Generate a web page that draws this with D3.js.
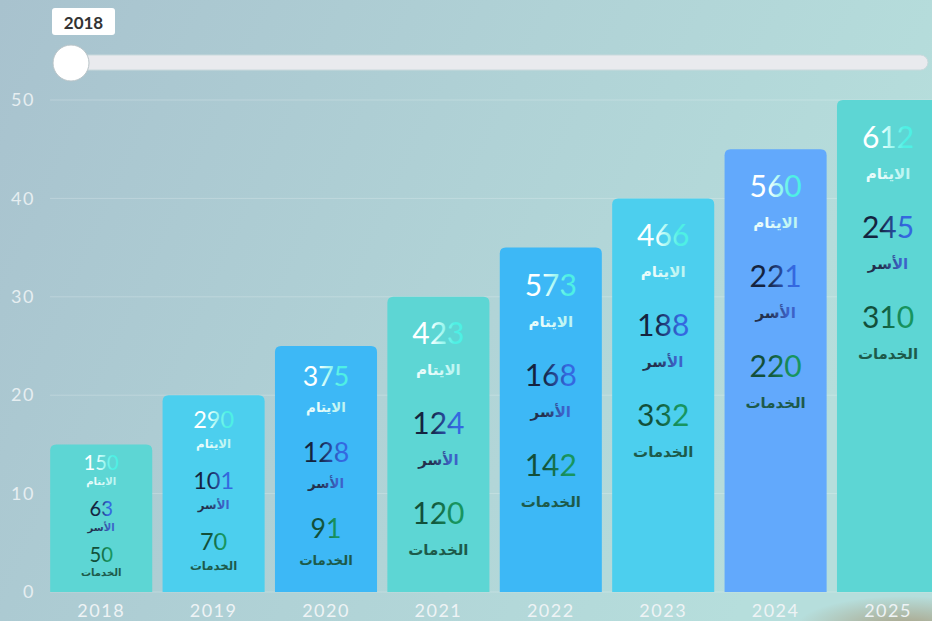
<!DOCTYPE html>
<html>
<head>
<meta charset="utf-8">
<script src="https://cdn.jsdelivr.net/npm/d3@7"></script>
<style>
  html, body { margin: 0; padding: 0; overflow: hidden; }
  svg { display: block; }
</style>
</head>
<body>
<script>
// chart data
var years = ["2018", "2019", "2020", "2021", "2022", "2023", "2024", "2025"];
var barValues = [15, 20, 25, 30, 35, 40, 45, 50];
var orphans = [150, 290, 375, 423, 573, 466, 560, 612];
var families = [63, 101, 128, 124, 168, 188, 221, 245];
var services = [50, 70, 91, 120, 142, 332, 220, 310];
var groupLabels = ["الايتام", "الأسر", "الخدمات"];
var yTicks = [0, 10, 20, 30, 40, 50];
var barColors = ["#5dd6d4", "#4ccfee", "#3db8f6", "#5dd6d4", "#3db8f6", "#4ccfee", "#62a9fc", "#5dd6d4"];
var sliderYear = "2018";

var W = 932, H = 621;
var margin = {top: 100, bottom: 29, left: 45};

var svg = d3.select("body").append("svg")
    .attr("width", W)
    .attr("height", H);

var defs = svg.append("defs");

// background
var bg = defs.append("linearGradient").attr("id", "bg")
    .attr("x1", 0).attr("y1", 0).attr("x2", 1).attr("y2", 0.3);
bg.append("stop").attr("offset", "0%").attr("stop-color", "#a8c2ce");
bg.append("stop").attr("offset", "55%").attr("stop-color", "#b0d2d6");
bg.append("stop").attr("offset", "100%").attr("stop-color", "#b6dedc");

var patch = defs.append("radialGradient").attr("id", "patch")
    .attr("cx", 0.5).attr("cy", 0.5).attr("r", 0.5);
patch.append("stop").attr("offset", "0%").attr("stop-color", "#a89a7a").attr("stop-opacity", 0.9);
patch.append("stop").attr("offset", "100%").attr("stop-color", "#a89a7a").attr("stop-opacity", 0);

svg.append("rect").attr("width", W).attr("height", H).attr("fill", "url(#bg)");
svg.append("ellipse").attr("cx", 905).attr("cy", 628).attr("rx", 110).attr("ry", 32).attr("fill", "url(#patch)");

// text gradients: [id, left colour, right colour]
var grads = [
    ["g0", "#ffffff", "#4ef0e4"],
    ["g1", "#14233f", "#3468e0"],
    ["g2", "#124f3a", "#179560"],
    ["l0", "#e8fbfa", "#bff5f2"],
    ["l1", "#23304d", "#3c62c8"],
    ["l2", "#1d5a4a", "#1d5a4a"]
];
grads.forEach(function(g) {
    var lg = defs.append("linearGradient").attr("id", g[0])
        .attr("x1", 0).attr("y1", 0).attr("x2", 1).attr("y2", 0);
    lg.append("stop").attr("offset", "35%").attr("stop-color", g[1]);
    lg.append("stop").attr("offset", "80%").attr("stop-color", g[2]);
});

var x = d3.scaleBand()
    .domain(years)
    .range([margin.left, margin.left + 8 * 112.4])
    .paddingInner(0.092)
    .paddingOuter(0.046);

var y = d3.scaleLinear()
    .domain([0, 50])
    .range([H - margin.bottom, margin.top]);

// grid
svg.append("g")
    .selectAll("line")
    .data(yTicks)
    .enter().append("line")
    .attr("x1", 50).attr("x2", W)
    .attr("y1", function(d) { return y(d); })
    .attr("y2", function(d) { return y(d); })
    .attr("stroke", "#ffffff")
    .attr("stroke-opacity", 0.22)
    .attr("stroke-width", 1);

// y axis
var yAxis = d3.axisLeft(y).tickValues(yTicks).tickSize(0).tickPadding(0);
var yg = svg.append("g")
    .attr("transform", "translate(35,0)")
    .call(yAxis);
yg.select(".domain").remove();
yg.selectAll("text")
    .attr("fill", "#e6eef1")
    .style("font-family", "Lato, sans-serif")
    .style("font-size", "18px")
    .style("letter-spacing", "1.5px");

// x axis
var xAxis = d3.axisBottom(x).tickSize(0).tickPadding(0);
var xg = svg.append("g")
    .attr("transform", "translate(0," + (H - margin.bottom + 9) + ")")
    .call(xAxis);
xg.select(".domain").remove();
xg.selectAll("text")
    .attr("fill", "#eef3f5")
    .attr("dy", "0.9em")
    .style("font-family", "Lato, sans-serif")
    .style("font-size", "18px")
    .style("letter-spacing", "1.5px");

// bars with rounded top corners
function barPath(x0, y0, w, h, r) {
    return "M" + x0 + "," + (y0 + h) +
        "V" + (y0 + r) +
        "Q" + x0 + "," + y0 + " " + (x0 + r) + "," + y0 +
        "H" + (x0 + w - r) +
        "Q" + (x0 + w) + "," + y0 + " " + (x0 + w) + "," + (y0 + r) +
        "V" + (y0 + h) + "Z";
}

var rows = years.map(function(yr, i) {
    return {year: yr, v: barValues[i], nums: [orphans[i], families[i], services[i]], color: barColors[i]};
});

var bars = svg.append("g").selectAll("g.bar")
    .data(rows)
    .enter().append("g")
    .attr("class", "bar");

bars.append("path")
    .attr("d", function(d) {
        return barPath(x(d.year), y(d.v), x.bandwidth(), y(0) - y(d.v), 6);
    })
    .attr("fill", function(d) { return d.color; });

// text sizing follows bar height
var fullH = y(0) - y(30);
bars.each(function(d) {
    var h = y(0) - y(d.v);
    var k = Math.min(1, 0.35 + 0.65 * h / fullH);
    var top = y(d.v) + Math.min(36, 0.12 * h);
    var step = Math.min(90, 0.31 * h);
    var gap = Math.min(38, 0.13 * h);
    var cx = x(d.year) + x.bandwidth() / 2;
    var g = d3.select(this);
    d.nums.forEach(function(n, j) {
        var cy = top + j * step;
        g.append("text")
            .attr("x", cx).attr("y", cy)
            .attr("text-anchor", "middle")
            .attr("dominant-baseline", "central")
            .attr("fill", "url(#g" + j + ")")
            .style("font-family", "Lato, sans-serif")
            .style("font-size", (30 * k) + "px")
            .text(n);
        g.append("text")
            .attr("x", cx).attr("y", cy + gap)
            .attr("text-anchor", "middle")
            .attr("dominant-baseline", "central")
            .attr("fill", "url(#l" + j + ")")
            .style("font-family", "'DejaVu Sans', sans-serif")
            .style("font-weight", "bold")
            .style("font-size", (15 * k) + "px")
            .text(groupLabels[j]);
    });
});

// slider
var slider = svg.append("g");
slider.append("rect")
    .attr("x", 62).attr("y", 55).attr("width", 866).attr("height", 15).attr("rx", 7.5)
    .attr("fill", "#e9eaee")
    .attr("stroke", "#c9d9dc").attr("stroke-width", 1);
slider.append("circle")
    .attr("cx", 71).attr("cy", 63).attr("r", 18)
    .attr("fill", "#ffffff")
    .attr("stroke", "#b9c4c8").attr("stroke-width", 1);
slider.append("rect")
    .attr("x", 52).attr("y", 8).attr("width", 63).attr("height", 27).attr("rx", 3)
    .attr("fill", "#ffffff");
slider.append("text")
    .attr("x", 83.5).attr("y", 22)
    .attr("text-anchor", "middle")
    .attr("dominant-baseline", "central")
    .attr("fill", "#333")
    .style("font-family", "Lato, sans-serif")
    .style("font-weight", "bold")
    .style("font-size", "17px")
    .text(sliderYear);
</script>
</body>
</html>
